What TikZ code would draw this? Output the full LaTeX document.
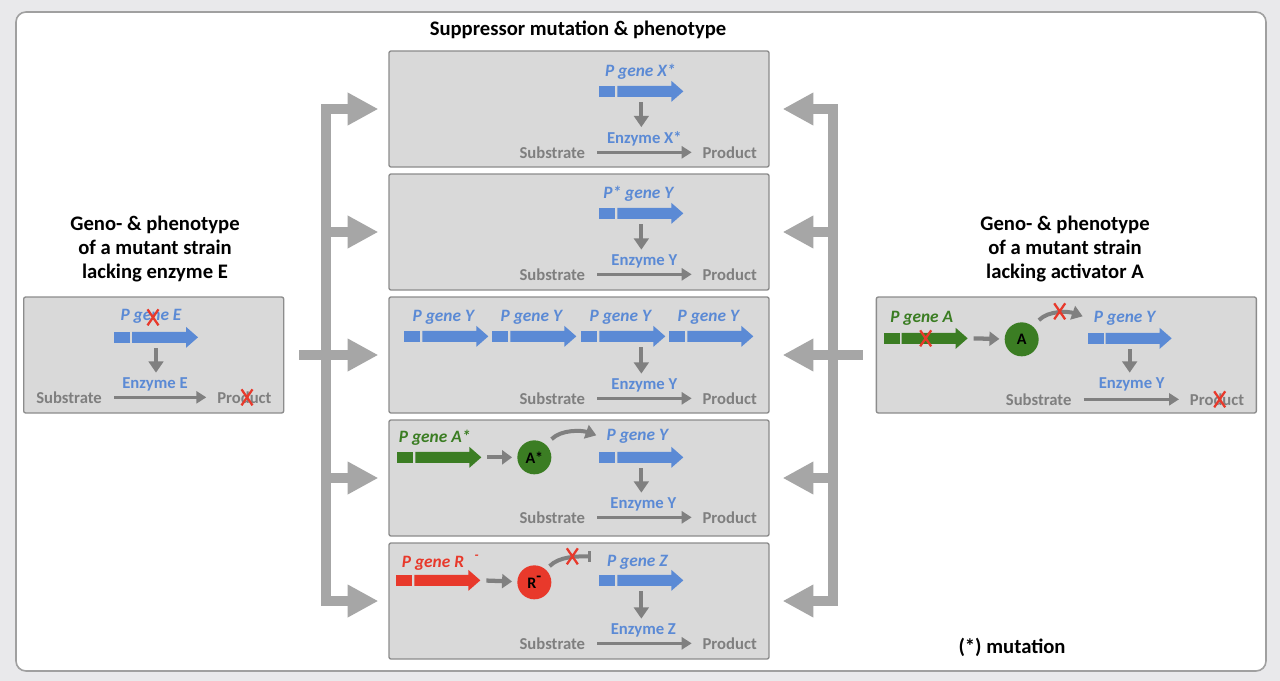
\documentclass[tikz,border=0pt]{standalone}
\usepackage{fontspec}
\setmainfont{Carlito}
\usetikzlibrary{arrows.meta, positioning, calc}

\definecolor{bgc}{HTML}{E9E9EB}
\definecolor{framec}{HTML}{A0A0A0}
\definecolor{panelc}{HTML}{D9D9D9}
\definecolor{panelb}{HTML}{8C8C8C}
\definecolor{geneblue}{HTML}{5B8AD5}
\definecolor{genegreen}{HTML}{3B7D23}
\definecolor{genered}{HTML}{E8392B}
\definecolor{txtgray}{HTML}{7F7F7F}
\definecolor{arrgray}{HTML}{808080}
\definecolor{forkgray}{HTML}{A6A6A6}

\begin{document}
\begin{tikzpicture}[
  x=0.75pt, y=-0.75pt,
  node distance=4.25pt,
  panel/.style={draw=panelb, line width=1pt, fill=panelc, rounded corners=1.5pt,
                minimum width=285pt, minimum height=87pt, inner sep=0pt},
  title/.style={font=\bfseries\fontsize{15.5}{18}\selectfont, align=center, inner sep=1pt},
  txt/.style={font=\bfseries\fontsize{12.5}{14}\selectfont, text=txtgray, inner sep=1.5pt},
  enz/.style={font=\bfseries\fontsize{12.5}{14}\selectfont, text=geneblue, inner sep=1pt},
  glabel/.style={font=\bfseries\itshape\fontsize{13}{15}\selectfont, inner sep=1pt},
  prot/.style={circle, minimum size=25.5pt, inner sep=0pt, font=\bfseries\fontsize{12}{14}\selectfont},
  flow/.style={draw=arrgray, line width=2.5pt, -{Triangle[length=7.5pt, width=9pt]},
               shorten <=7.5pt, shorten >=6.5pt},
  down/.style={draw=arrgray, line width=3pt, -{Triangle[length=8.5pt, width=11pt]}, shorten >=2.5pt},
  feed/.style={draw=arrgray, line width=3.2pt, -{Triangle[length=7.5pt, width=10.5pt]},
               shorten <=4.5pt, shorten >=3.75pt},
  curl/.style={draw=arrgray, line width=3pt, -{Triangle[length=8pt, width=10.5pt]}},
  block/.style={draw=arrgray, line width=3pt, -{Bar[width=8pt, line width=2.5pt]}},
  fork/.style={draw=forkgray, line width=7.5pt, -{Triangle[length=23pt, width=23pt]}},
  gene/.pic={
    \fill (0,-5.5) rectangle (16,5.5);
    \fill (18,-5.5) -- (72,-5.5) -- (72,-10.5) -- (84,0) -- (72,10.5) -- (72,5.5) -- (18,5.5) -- cycle;
    \coordinate (-bot) at (42,11);
    \coordinate (-tip) at (84,0);
  },
  xmark/.pic={
    \draw[genered, line width=1.7pt] (-5.5,-8) -- (5.5,8) (-5.5,8) -- (5.5,-8);
  }
]
  \fill[bgc] (0,0) rectangle (1280,681);
  \useasboundingbox (0,0) rectangle (1280,681);
  \draw[framec, fill=white, line width=1.2pt, rounded corners=7.5pt] (16,12) rectangle (1266,671);

  % panels
  \node[panel] (p1) at (579,109) {};
  \node[panel, below=of p1] (p2) {};
  \node[panel, below=of p2] (p3) {};
  \node[panel, below=of p3] (p4) {};
  \node[panel, below=of p4] (p5) {};
  \node[panel, minimum width=195pt, left=78pt of p3] (lackE) {};
  \node[panel, right=79.5pt of p3] (lackA) {};

  % titles
  \node[title] (tSup) at (578,30) {Suppressor mutation \& phenotype};
  \node[title] (tE) at (155,249) {Geno- \& phenotype\\of a mutant strain\\lacking enzyme E};
  \node[title] (tA) at (1065,249) {Geno- \& phenotype\\of a mutant strain\\lacking activator A};
  \node[title] (tMut) at (1012,647) {(*) mutation};

  % mutant lacking enzyme E
  \begin{scope}[shift={(lackE.north west)}]
    \pic[color=geneblue] (gE) at (91,41) {gene};
    \node[glabel, text=geneblue] (lE) at (128,20) {P gene E};
    \node[enz] (eE) at (132,88) {Enzyme E};
    \node[txt, anchor=west] (sE) at (11,101) {Substrate};
    \node[txt, anchor=west] (rE) at (192,101) {Product};
    \draw[down] (gE-bot) -- (gE-bot |- eE.north);
    \draw[flow] (sE) -- (rE);
    \pic (xE1) at (130,21) {xmark};
    \pic (xE2) at ($(rE.west)+(32,0)$) {xmark};
  \end{scope}

  % P gene X*
  \begin{scope}[shift={(p1.north west)}]
    \pic[color=geneblue] (gX) at (211,41) {gene};
    \node[glabel, text=geneblue] (lX) at (252,21) {P gene X*};
    \node[enz] (eX) at (256,89) {Enzyme X*};
    \node[txt, anchor=east] (sX) at (199,102) {Substrate};
    \node[txt, anchor=west] (rX) at (312,102) {Product};
    \draw[down] (gX-bot) -- (gX-bot |- eX.north);
    \draw[flow] (sX) -- (rX);
  \end{scope}

  % P* gene Y
  \begin{scope}[shift={(p2.north west)}]
    \pic[color=geneblue] (gP) at (211,40) {gene};
    \node[glabel, text=geneblue] (lP) at (250,20) {P* gene Y};
    \node[enz] (eP) at (256,88) {Enzyme Y};
    \node[txt, anchor=east] (sP) at (199,101) {Substrate};
    \node[txt, anchor=west] (rP) at (312,101) {Product};
    \draw[down] (gP-bot) -- (gP-bot |- eP.north);
    \draw[flow] (sP) -- (rP);
  \end{scope}

  % gene Y copies
  \begin{scope}[shift={(p3.north west)}]
    \foreach \i/\gx in {1/16, 2/104, 3/193, 4/281} {
      \pic[color=geneblue] (gY\i) at (\gx,40) {gene};
      \node[glabel, text=geneblue] (lY\i) at (\gx+39,21) {P gene Y};
    }
    \node[enz] (eY) at (256,89) {Enzyme Y};
    \node[txt, anchor=east] (sY) at (199,102) {Substrate};
    \node[txt, anchor=west] (rY) at (312,102) {Product};
    \draw[down] ([xshift=13.5pt]gY3-bot) -- ([xshift=13.5pt]gY3-bot |- eY.north);
    \draw[flow] (sY) -- (rY);
  \end{scope}

  % P gene A*
  \begin{scope}[shift={(p4.north west)}]
    \pic[color=genegreen] (gA4) at (9,38) {gene};
    \node[glabel, text=genegreen, anchor=west] (lA4) at (9,18) {P gene A*};
    \node[prot, fill=genegreen] (cA4) at (146,38) {A*};
    \draw[feed] (gA4-tip) -- (cA4);
    \pic[color=geneblue] (gY5) at (211,38) {gene};
    \node[glabel, text=geneblue] (lY5) at (249,17) {P gene Y};
    \coordinate (onY4) at (208,16);
    \draw[curl] ($(cA4.north east)+(5,-6)$) .. controls +(10,-10) and +(-14,-5) .. (onY4);
    \node[enz] (eY4) at (255,85) {Enzyme Y};
    \node[txt, anchor=east] (sY4) at (199,98) {Substrate};
    \node[txt, anchor=west] (rY4) at (312,98) {Product};
    \draw[down] (gY5-bot) -- (gY5-bot |- eY4.north);
    \draw[flow] (sY4) -- (rY4);
  \end{scope}

  % P gene R-
  \begin{scope}[shift={(p5.north west)}]
    \pic[color=genered] (gR) at (8,38) {gene};
    \node[glabel, text=genered, anchor=west] (lR) at (12,20) {P gene R\hspace{8pt}\raisebox{6pt}{\fontsize{10}{10}\selectfont -}};
    \node[prot, fill=genered] (cR) at (146,40) {R\raisebox{5pt}{-}};
    \draw[feed] (gR-tip) -- (cR);
    \pic[color=geneblue] (gZ) at (211,38) {gene};
    \node[glabel, text=geneblue] (lZ) at (249,20) {P gene Z};
    \coordinate (onZ) at (203,14);
    \draw[block] ($(cR.north east)+(3,-4)$) .. controls +(10,-10) and +(-14,0) .. (onZ);
    \pic (xR) at (184,14) {xmark};
    \node[enz] (eZ) at (255,88) {Enzyme Z};
    \node[txt, anchor=east] (sZ) at (199,101) {Substrate};
    \node[txt, anchor=west] (rZ) at (312,101) {Product};
    \draw[down] (gZ-bot) -- (gZ-bot |- eZ.north);
    \draw[flow] (sZ) -- (rZ);
  \end{scope}

  % mutant lacking activator A
  \begin{scope}[shift={(lackA.north west)}]
    \pic[color=genegreen] (gA) at (8,42) {gene};
    \node[glabel, text=genegreen, anchor=west] (lA) at (13,22) {P gene A};
    \node[prot, fill=genegreen] (cA) at (146,43) {A};
    \draw[feed] (gA-tip) -- (cA);
    \pic[color=geneblue] (gYA) at (212,42) {gene};
    \node[glabel, text=geneblue] (lYA) at (249,22) {P gene Y};
    \coordinate (onYA) at (207,20);
    \draw[curl] ($(cA.north east)+(5,-7)$) .. controls +(10,-10) and +(-14,-5) .. (onYA);
    \node[enz] (eYA) at (256,88) {Enzyme Y};
    \node[txt, anchor=east] (sYA) at (198,103) {Substrate};
    \node[txt, anchor=west] (rYA) at (312,103) {Product};
    \draw[down] (gYA-bot) -- (gYA-bot |- eYA.north);
    \draw[flow] (sYA) -- (rYA);
    \pic (xA1) at (50,42) {xmark};
    \pic (xA2) at (184,15) {xmark};
    \pic (xA3) at ($(rYA.west)+(32,0)$) {xmark};
  \end{scope}

  % forks
  \coordinate (forkL) at ($(p3.west)+(-62,0)$);
  \coordinate (inL) at ($(lackE.east)+(15,0)$);
  \foreach \p in {p1,p2,p4,p5}
    \draw[fork] (forkL) |- ($(\p.west)+(-10,0)$);
  \draw[fork] (inL) -- ($(p3.west)+(-10,0)$);

  \coordinate (forkR) at ($(p3.east)+(63,0)$);
  \coordinate (inR) at ($(lackA.west)+(-13,0)$);
  \foreach \p in {p1,p2,p4,p5}
    \draw[fork] (forkR) |- ($(\p.east)+(13,0)$);
  \draw[fork] (inR) -- ($(p3.east)+(13,0)$);
\end{tikzpicture}
\end{document}
